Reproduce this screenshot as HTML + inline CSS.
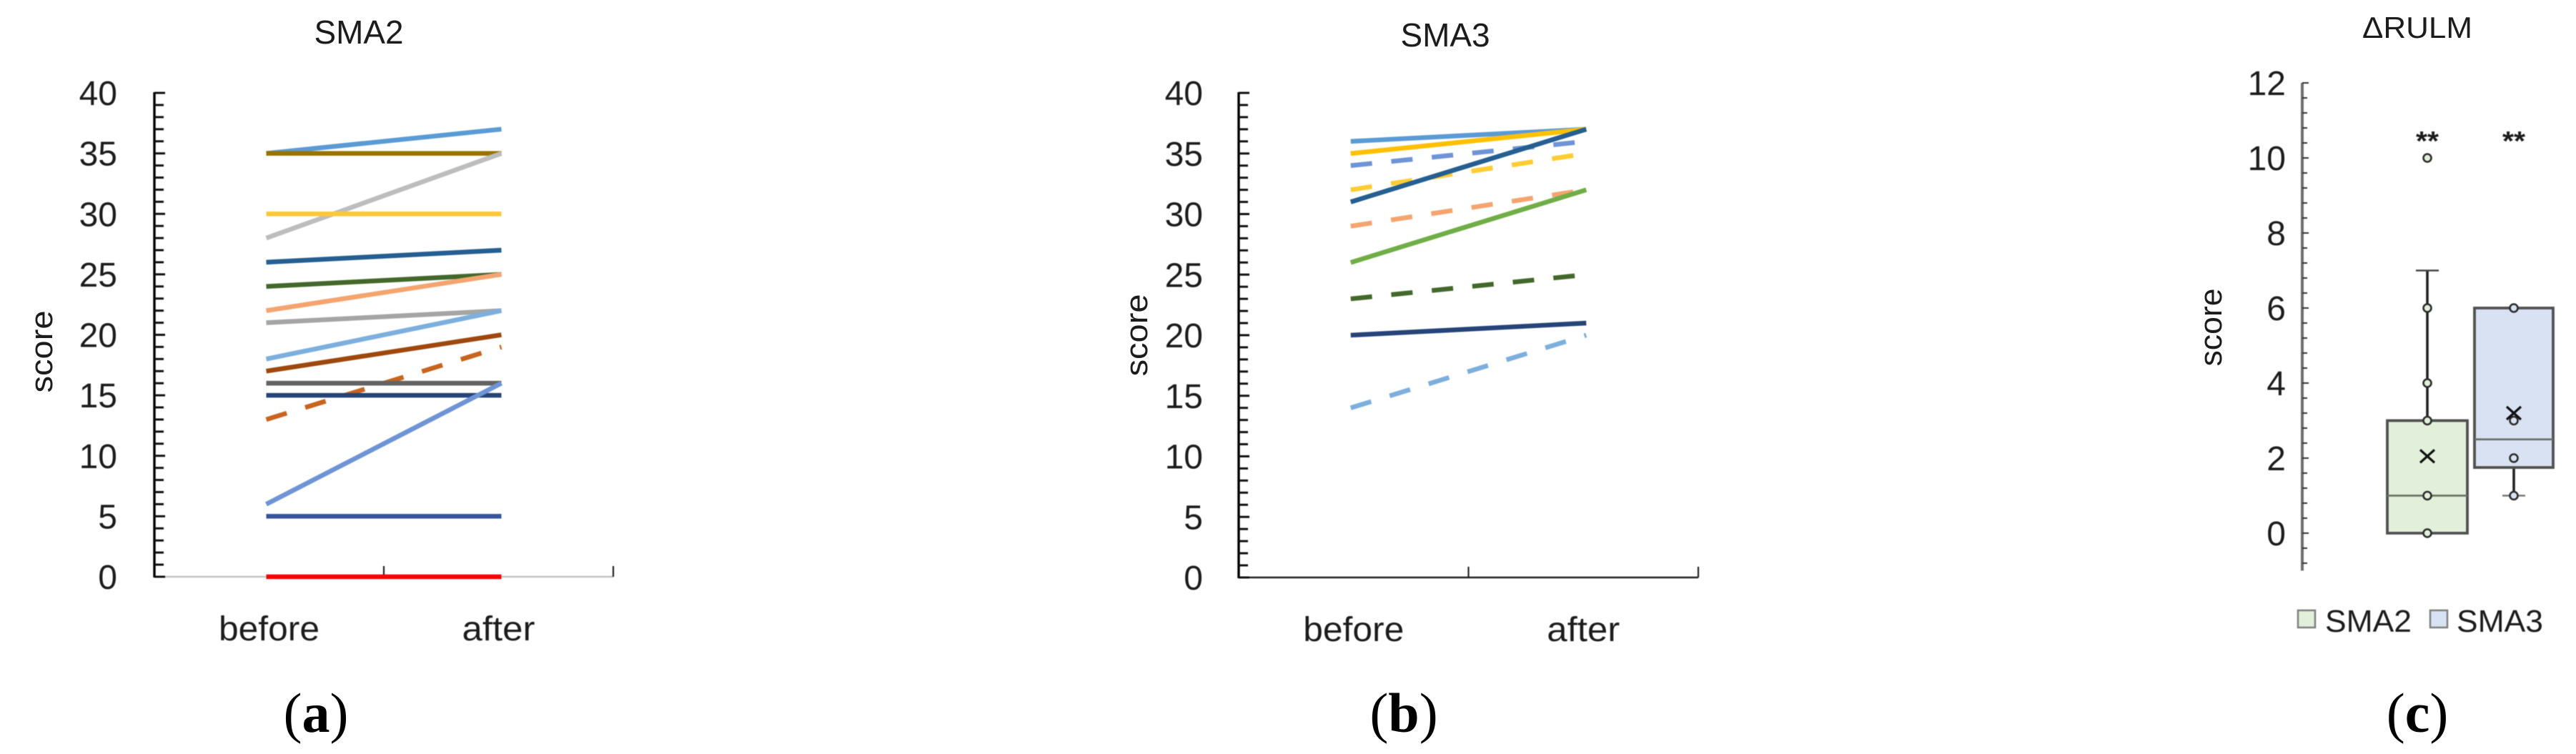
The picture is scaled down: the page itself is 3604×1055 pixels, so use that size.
<!DOCTYPE html>
<html lang="en">
<head>
<meta charset="utf-8">
<title>SMA2, SMA3 and delta RULM charts</title>
<style>
html,body{margin:0;padding:0;background:#fff;width:3604px;height:1055px;overflow:hidden}
svg{display:block}
text{font-family:"Liberation Sans","DejaVu Sans",sans-serif;fill:#1c1c1c}
.panel-label{font-family:"Liberation Serif","DejaVu Serif",serif;font-size:78px;fill:#000}
.soft{filter:blur(0.6px)}
</style>
</head>
<body>
<svg id="figure" xmlns="http://www.w3.org/2000/svg" width="3604" height="1055" viewBox="0 0 3604 1055">
  <g id="chart-a" class="soft"></g>
  <g id="chart-b" class="soft"></g>
  <g id="chart-c" class="soft"></g>

  <text x="502" y="61" font-size="46" text-anchor="middle" textLength="125" lengthAdjust="spacingAndGlyphs">SMA2</text>
  <text x="2022" y="65" font-size="46" text-anchor="middle" textLength="125" lengthAdjust="spacingAndGlyphs">SMA3</text>
  <text x="3382" y="53" font-size="42" text-anchor="middle" textLength="154" lengthAdjust="spacingAndGlyphs">ΔRULM</text>

  <text transform="translate(73 492) rotate(-90)" font-size="44" text-anchor="middle" textLength="115" lengthAdjust="spacingAndGlyphs">score</text>
  <text transform="translate(1605 469) rotate(-90)" font-size="44" text-anchor="middle" textLength="115" lengthAdjust="spacingAndGlyphs">score</text>
  <text transform="translate(3108 458) rotate(-90)" font-size="44" text-anchor="middle" textLength="109" lengthAdjust="spacingAndGlyphs">score</text>

  <text class="panel-label" x="442" y="1024" text-anchor="middle">(<tspan font-weight="700">a</tspan>)</text>
  <text class="panel-label" x="1964" y="1024" text-anchor="middle">(<tspan font-weight="700">b</tspan>)</text>
  <text class="panel-label" x="3382" y="1024" text-anchor="middle">(<tspan font-weight="700">c</tspan>)</text>

  <g class="soft">
    <rect x="3215" y="854" width="24" height="24" fill="#E2EFDA" stroke="#7f7f7f" stroke-width="2.5"/>
    <text x="3253" y="884" font-size="44" textLength="121" lengthAdjust="spacingAndGlyphs">SMA2</text>
    <rect x="3400" y="854" width="24" height="24" fill="#D9E2F3" stroke="#7f7f7f" stroke-width="2.5"/>
    <text x="3437" y="884" font-size="44" textLength="121" lengthAdjust="spacingAndGlyphs">SMA3</text>
  </g>
</svg>

<script>
// ---- Chart data ----
const categories = ['before', 'after'];
const scoreTicks = [0, 5, 10, 15, 20, 25, 30, 35, 40];
const sma2Before = [35, 35, 28, 30, 26, 24, 22, 21, 18, 17, 13, 16, 15, 6, 5, 0];
const sma2After  = [37, 35, 35, 30, 27, 25, 25, 22, 22, 20, 19, 16, 15, 16, 5, 0];
const sma2Dashed = [0, 0, 0, 0, 0, 0, 0, 0, 0, 0, 1, 0, 0, 0, 0, 0];
const sma3Before = [36, 35, 34, 32, 31, 29, 26, 23, 20, 14];
const sma3After  = [37, 37, 36, 35, 37, 32, 32, 25, 21, 20];
const sma3Dashed = [0, 0, 1, 1, 0, 1, 0, 1, 0, 1];
const rulmTicks = [0, 2, 4, 6, 8, 10, 12];
const boxGroups = ['SMA2', 'SMA3'];
const boxQ1 = [0, 1.75];
const boxMedian = [1, 2.5];
const boxQ3 = [3, 6];
const boxWhiskerLow = [0, 1];
const boxWhiskerHigh = [7, 6];
const boxMean = [2.05, 3.2];
const sma2Points = [10, 6, 4, 3, 1, 0];
const sma3Points = [6, 3, 2, 1];
const significance = ['**', '**'];

// ---- Series palettes ----
const sma2Colors = ['#5B9BD5', '#997300', '#BDBDBD', '#FFC83A', '#255E91', '#43682B', '#F4A46F', '#A5A5A5', '#7CAFDD', '#9E480E', '#C8641E', '#636363', '#264478', '#6F94D6', '#35559B', '#FF0000'];
const sma3Colors = ['#5B9BD5', '#FFC000', '#6F94D6', '#FFCD33', '#255E91', '#F4A46F', '#70AD47', '#43682B', '#264478', '#7CAFDD'];

const NS = 'http://www.w3.org/2000/svg';
function mk(parent, tag, attrs, txt) {
  const el = document.createElementNS(NS, tag);
  for (const k in attrs) el.setAttribute(k, attrs[k]);
  if (txt !== undefined) el.textContent = txt;
  parent.appendChild(el);
  return el;
}

function drawLinePanel(opts) {
  const g = document.getElementById(opts.id);
  const yPos = v => opts.y0 - (v / 40) * (opts.y0 - opts.y40);
  const xPos = i => opts.x0 + (i + 0.5) * (opts.x1 - opts.x0) / categories.length;

  let el = mk(g, 'line', {x1: opts.x0, y1: opts.y0, x2: opts.x1, y2: opts.y0, stroke: opts.xAxisColor, 'stroke-width': 2.5});
  
  
  el = mk(g, 'line', {x1: opts.x0, y1: yPos(40) - 1, x2: opts.x0, y2: opts.y0 + 1, stroke: '#000', 'stroke-width': 3.4});
  
  

  for (let v = 0; v <= 40; v++) {
    const major = v % 5 === 0;
    el = mk(g, 'line', {x1: opts.x0, y1: yPos(v), x2: opts.x0 + (major ? 15 : 13), y2: yPos(v), stroke: '#111', 'stroke-width': 3});
    
    
  }
  scoreTicks.forEach(v => {
    el = mk(g, 'text', {x: opts.labelX, y: yPos(v) + 17, 'font-size': 48, 'text-anchor': 'end'}, String(v));
    
    
  });
  [1, 2].forEach(i => {
    const tx = opts.x0 + i * (opts.x1 - opts.x0) / categories.length;
    el = mk(g, 'line', {x1: tx, y1: opts.y0, x2: tx, y2: opts.y0 - 15, stroke: '#222', 'stroke-width': 2.2});
    
    
  });
  categories.forEach((c, i) => {
    el = mk(g, 'text', {x: xPos(i), y: opts.labelY, 'font-size': 48, 'text-anchor': 'middle', textLength: i === 0 ? 141 : 102, lengthAdjust: 'spacingAndGlyphs'}, c);
    
    
  });
  opts.before.forEach((b, i) => {
    const attrs = {x1: xPos(0) - 4, y1: yPos(b), x2: xPos(1) + 4, y2: yPos(opts.after[i]), stroke: opts.colors[i], 'stroke-width': 6.6};
    if (opts.dashed[i]) attrs['stroke-dasharray'] = '30 27';
    el = mk(g, 'line', attrs);
    
    
  });
}

drawLinePanel({id: 'chart-a', x0: 216, x1: 858, y0: 807, y40: 130, labelX: 164, labelY: 896, xAxisColor: '#c4c4c4', before: sma2Before, after: sma2After, colors: sma2Colors, dashed: sma2Dashed});
drawLinePanel({id: 'chart-b', x0: 1733, x1: 2376, y0: 808, y40: 130, labelX: 1683, labelY: 897, xAxisColor: '#222', before: sma3Before, after: sma3After, colors: sma3Colors, dashed: sma3Dashed});

// ---- Box plot ----
(function () {
  const g = document.getElementById('chart-c');
  const axisX = 3221;
  const yPos = v => 746 - v * 52.5;
  const cx = i => 3396 + i * 121;
  const halfBox = i => 56 - i;
  const groupPoints = [sma2Points, sma3Points];
  const fills = ['#E2EFDA', '#D9E2F3'];

  let el = mk(g, 'line', {x1: axisX, y1: yPos(12), x2: axisX, y2: yPos(-1), stroke: '#6e6e6e', 'stroke-width': 4});
  
  
  for (let k = -2; k <= 30; k++) {
    const v = k * 0.4;
    const major = k % 5 === 0;
    el = mk(g, 'line', {x1: axisX, y1: yPos(v), x2: axisX + (major ? 9 : 7), y2: yPos(v), stroke: '#333', 'stroke-width': 2});
    
    
  }
  rulmTicks.forEach(v => {
    el = mk(g, 'text', {x: 3198, y: yPos(v) + 17, 'font-size': 48, 'text-anchor': 'end'}, String(v));
    
    
  });

  boxGroups.forEach((name, i) => {
    const c = cx(i), hw = halfBox(i);
    el = mk(g, 'line', {x1: c, y1: yPos(boxQ3[i]), x2: c, y2: yPos(boxWhiskerHigh[i]), stroke: '#222', 'stroke-width': 3.6});
    
    
    el = mk(g, 'line', {x1: c, y1: yPos(boxQ1[i]), x2: c, y2: yPos(boxWhiskerLow[i]), stroke: '#222', 'stroke-width': 3.6});
    
    
    el = mk(g, 'line', {x1: c - 16, y1: yPos(boxWhiskerHigh[i]), x2: c + 16, y2: yPos(boxWhiskerHigh[i]), stroke: '#444', 'stroke-width': 2.4});
    
    
    el = mk(g, 'line', {x1: c - 16, y1: yPos(boxWhiskerLow[i]), x2: c + 16, y2: yPos(boxWhiskerLow[i]), stroke: '#777', 'stroke-width': 2.4});
    
    
    el = mk(g, 'rect', {x: c - hw, y: yPos(boxQ3[i]), width: 2 * hw, height: yPos(boxQ1[i]) - yPos(boxQ3[i]), fill: fills[i], stroke: '#505050', 'stroke-width': 3.8});
    
    
    el = mk(g, 'line', {x1: c - hw, y1: yPos(boxMedian[i]), x2: c + hw, y2: yPos(boxMedian[i]), stroke: '#6a7266', 'stroke-width': 2.8});
    
    
    groupPoints[i].forEach(v => {
      el = mk(g, 'circle', {cx: c, cy: yPos(v), r: 5.5, fill: fills[i], stroke: '#2b2b2b', 'stroke-width': 2.6});
      
      
    });
    const my = yPos(boxMean[i]);
    el = mk(g, 'path', {d: 'M' + (c - 10) + ' ' + (my - 9) + 'L' + (c + 10) + ' ' + (my + 9) + 'M' + (c + 10) + ' ' + (my - 9) + 'L' + (c - 10) + ' ' + (my + 9), stroke: '#111', 'stroke-width': 3.2, fill: 'none'});
    
    
    el = mk(g, 'text', {x: c, y: 210, 'font-size': 38, 'font-weight': 700, 'text-anchor': 'middle', textLength: 32, lengthAdjust: 'spacingAndGlyphs'}, significance[i]);
    
    
  });
})();
</script>
</body>
</html>
